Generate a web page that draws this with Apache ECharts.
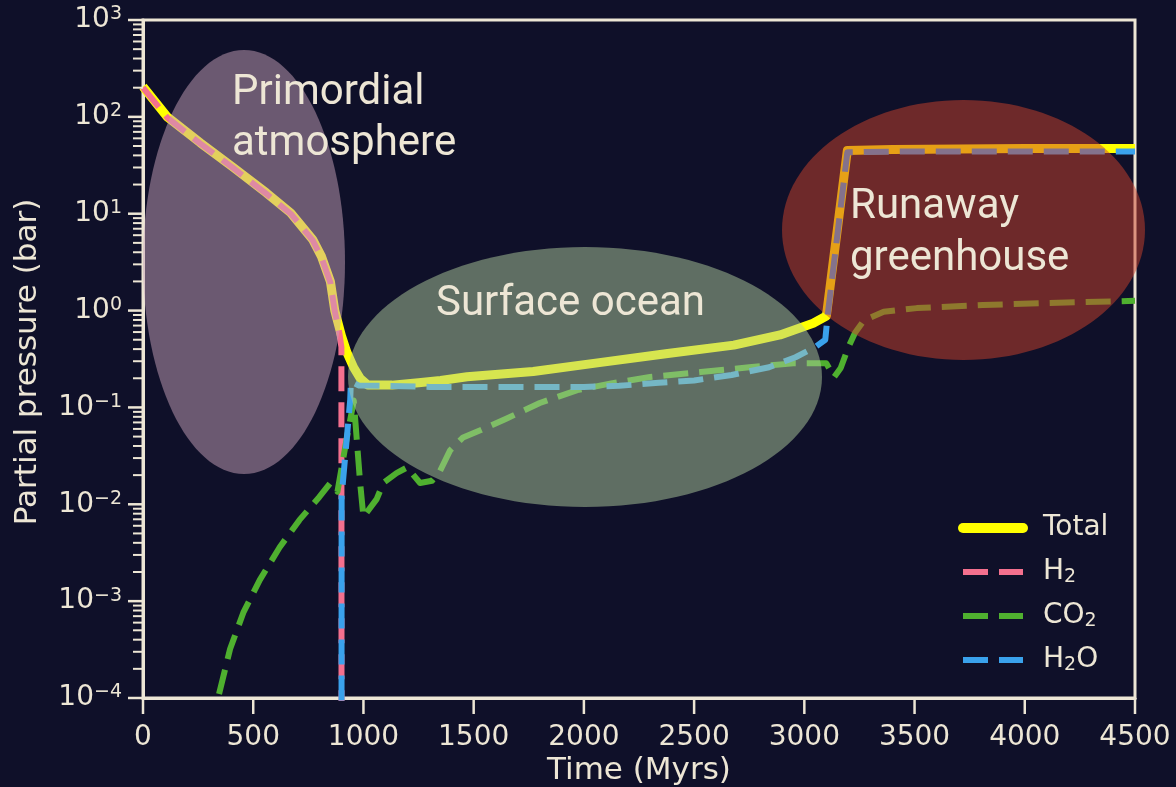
<!DOCTYPE html>
<html><head><meta charset="utf-8">
<script src="https://cdn.jsdelivr.net/npm/echarts@6/dist/echarts.min.js"></script>
<style>html,body{margin:0;padding:0;background:#0f1029;}#c{width:1176px;height:787px;}#dbg{position:absolute;left:400px;top:560px;color:#fff;font:14px 'DejaVu Sans';}</style>
</head><body><div id="c"></div><div id="dbg"></div>
<script>
// ---- data (time in Myrs, partial pressure in bar) ----
const totalT = [0, 110, 260, 410, 560, 670, 770, 810, 850, 870, 900, 925, 955, 985, 1020, 1130, 1250, 1350, 1470, 1770, 2070, 2380, 2680, 2890, 3040, 3100, 3195, 3400, 4000, 4500];
const totalP = [205, 100, 54, 30, 16.4, 10.2, 5.4, 3.6, 2.0, 1.0, 0.55, 0.37, 0.26, 0.20, 0.17, 0.17, 0.18, 0.19, 0.207, 0.235, 0.29, 0.36, 0.44, 0.56, 0.74, 0.88, 45, 46, 47, 47];

const h2T = [0, 110, 260, 410, 560, 670, 770, 810, 850, 870, 890, 900, 901];
const h2P = [200, 98, 53, 29.5, 16, 10, 5.3, 3.5, 1.95, 0.98, 0.6, 0.42, 1e-7];

const co2T = [345, 395, 455, 530, 620, 710, 800, 850, 882, 925, 948, 956, 985, 1000, 1060, 1090, 1150, 1198, 1257, 1311, 1347, 1393, 1452, 1530, 1650, 1800, 1970, 2130, 2300, 2530, 2750, 2950, 3100, 3135, 3165, 3200, 3230, 3270, 3360, 3510, 3810, 4110, 4500];
const co2P = [1.1e-4, 3.2e-4, 7.6e-4, 1.66e-3, 3.6e-3, 6.9e-3, 0.0119, 0.0166, 0.0135, 0.049, 0.093, 0.118, 0.0166, 0.0074, 0.0113, 0.0166, 0.021, 0.024, 0.0166, 0.0175, 0.022, 0.036, 0.049, 0.058, 0.077, 0.111, 0.151, 0.178, 0.206, 0.232, 0.26, 0.285, 0.285, 0.205, 0.255, 0.42, 0.59, 0.79, 0.97, 1.06, 1.14, 1.2, 1.26];

const h2oT = [900, 901, 940, 943, 980, 1100, 1300, 1600, 2000, 2160, 2340, 2500, 2670, 2840, 2960, 3050, 3095, 3105, 3195, 3500, 4000, 4500];
const h2oP = [1e-7, 0.012, 0.12, 0.185, 0.168, 0.167, 0.163, 0.163, 0.163, 0.167, 0.18, 0.19, 0.216, 0.26, 0.33, 0.42, 0.5, 0.86, 43, 44, 44, 44];

const seriesNames = ['Total', 'H2', 'CO2', 'H2O'];
const xTickStep = 500;
const xTicks = [0, 500, 1000, 1500, 2000, 2500, 3000, 3500, 4000, 4500];
const yDecadeMin = -4, yDecadeMax = 3;
const annotations = ['Primordial\natmosphere', 'Surface ocean', 'Runaway\ngreenhouse'];

// ---- helpers ----
const dbg = msg => { document.getElementById('dbg').textContent += msg + ' | '; };
window.onerror = (m) => { dbg('ERR ' + m); };
const zip = (t, p) => t.map((x, i) => [x, p[i]]);
const CREAM = '#ede6d5';
const FONT = 'DejaVu Sans';
const majorVals = [], minorVals = [];
for (let d = yDecadeMin; d <= yDecadeMax; d++) majorVals.push(Math.pow(10, d));
for (let d = yDecadeMin; d < yDecadeMax; d++) for (let k = 2; k <= 9; k++) minorVals.push(k * Math.pow(10, d));

const GRID = { left: 143, right: 41, top: 20, bottom: 89, show: true, borderColor: CREAM, borderWidth: 3, backgroundColor: 'transparent' };
const X_BASE = { type: 'value', min: 0, max: 4500, interval: xTickStep };
const Y_BASE = { type: 'log', logBase: 10, min: Math.pow(10, yDecadeMin), max: Math.pow(10, yDecadeMax), splitNumber: 7 };

const chart = echarts.init(document.getElementById('c'));
// minimal pass to read the axis scales
chart.setOption({ animation: false, grid: GRID, xAxis: Object.assign({}, X_BASE), yAxis: Object.assign({}, Y_BASE),
  series: [{ type: 'line', data: [[0, 1], [4500, 1]], symbol: 'none', lineStyle: { opacity: 0 } }] });
const x0 = chart.convertToPixel({ xAxisIndex: 0 }, 0);
const yb = chart.convertToPixel({ yAxisIndex: 0 }, Math.pow(10, yDecadeMin));
const tickEls = [];
majorVals.forEach(v => { const y = chart.convertToPixel({ yAxisIndex: 0 }, v);
  tickEls.push({ type: 'line', silent: true, z: 4, shape: { x1: x0 - 15, y1: y, x2: x0, y2: y }, style: { stroke: CREAM, lineWidth: 2.5 } }); });
minorVals.forEach(v => { const y = chart.convertToPixel({ yAxisIndex: 0 }, v);
  tickEls.push({ type: 'line', silent: true, z: 4, shape: { x1: x0 - 10, y1: y, x2: x0, y2: y }, style: { stroke: CREAM, lineWidth: 2 } }); });
xTicks.forEach(t => { const x = chart.convertToPixel({ xAxisIndex: 0 }, t);
  tickEls.push({ type: 'line', silent: true, z: 4, shape: { x1: x, y1: yb, x2: x, y2: yb + 16 }, style: { stroke: CREAM, lineWidth: 2.5 } }); });
const bad = tickEls.filter(e => !isFinite(e.shape.x1) || !isFinite(e.shape.y1) || !isFinite(e.shape.x2) || !isFinite(e.shape.y2));
if (bad.length) dbg('bad ticks ' + bad.length + ' x0=' + x0 + ' yb=' + yb);

const dash = [25, 11];
const decor = [
  { type: 'ellipse', silent: true, z: 5, shape: { cx: 244, cy: 262, rx: 101, ry: 212 }, style: { fill: 'rgba(199,162,185,0.5)' } },
  { type: 'ellipse', silent: true, z: 5, shape: { cx: 585, cy: 377, rx: 237, ry: 130 }, style: { fill: 'rgba(175,204,157,0.5)' } },
  { type: 'ellipse', silent: true, z: 5, shape: { cx: 963.5, cy: 230, rx: 181.5, ry: 130 }, style: { fill: 'rgba(205,66,43,0.5)' } },
  { type: 'text', silent: true, z: 6, x: 232, y: 119, style: { text: annotations[0], fill: CREAM, fontSize: 42, fontFamily: 'Roboto', lineHeight: 51, align: 'left', verticalAlign: 'middle' } },
  { type: 'text', silent: true, z: 6, x: 436, y: 304, style: { text: annotations[1], fill: CREAM, fontSize: 42, fontFamily: 'Roboto', align: 'left', verticalAlign: 'middle' } },
  { type: 'text', silent: true, z: 6, x: 850, y: 233, style: { text: annotations[2], fill: CREAM, fontSize: 42, fontFamily: 'Roboto', lineHeight: 52, align: 'left', verticalAlign: 'middle' } },
  { type: 'text', silent: true, z: 6, x: 28, y: 362, rotation: Math.PI / 2, style: { text: 'Partial pressure (bar)', fill: CREAM, fontSize: 31, fontFamily: FONT, align: 'center', verticalAlign: 'middle' } },
  { type: 'text', silent: true, z: 6, x: 639, y: 771, style: { text: 'Time (Myrs)', fill: CREAM, fontSize: 31, fontFamily: FONT, align: 'center', verticalAlign: 'middle' } }
];

const option = {
  backgroundColor: '#0f1029',
  animation: false,
  textStyle: { fontFamily: FONT, color: CREAM },
  grid: GRID,
  xAxis: Object.assign({}, X_BASE, {
    axisLine: { lineStyle: { color: CREAM, width: 3 } },
    axisTick: { show: false },
    axisLabel: { color: CREAM, fontSize: 28, margin: 26, fontFamily: FONT, formatter: v => String(v) },
    splitLine: { show: false }
  }),
  yAxis: Object.assign({}, Y_BASE, {
    axisLine: { show: true, lineStyle: { color: CREAM, width: 3 } },
    axisTick: { show: false },
    axisLabel: {
      margin: 21,
      formatter: v => { const e = Math.round(Math.log10(v)); return '{b|10}{s|' + (e < 0 ? '−' + (-e) : e) + '}'; },
      rich: {
        b: { fontSize: 28, color: CREAM, fontFamily: FONT, lineHeight: 30 },
        s: { fontSize: 19, color: CREAM, fontFamily: FONT, lineHeight: 20, verticalAlign: 'top' }
      }
    },
    splitLine: { show: false }
  }),
  legend: {
    orient: 'vertical', left: 958, top: 513, padding: 0, itemWidth: 60, itemHeight: 14, itemGap: 14, z: 20,
    data: [{ name: 'Total', lineStyle: { width: 10, cap: 'round' } }, 'H2', 'CO2', 'H2O'],
    lineStyle: { width: 6 },
    formatter: name => name.replace(/(\d)/g, '{sub|$1}'),
    textStyle: {
      color: CREAM, fontSize: 28, fontFamily: FONT, padding: [0, 0, 0, 15], lineHeight: 30,
      rich: { sub: { fontSize: 19, color: CREAM, fontFamily: FONT, lineHeight: 14, verticalAlign: 'bottom' } }
    },
    itemStyle: { opacity: 0 },
    selectedMode: false
  },
  series: [
    { name: seriesNames[0], type: 'line', data: zip(totalT, totalP), symbol: 'none', z: 2,
      lineStyle: { color: '#ffff00', width: 9, join: 'round' }, itemStyle: { color: '#ffff00' } },
    { name: seriesNames[1], type: 'line', data: zip(h2T, h2P), symbol: 'none', z: 2,
      lineStyle: { color: '#f4708e', width: 6, type: dash, join: 'round' }, itemStyle: { color: '#f4708e' } },
    { name: seriesNames[2], type: 'line', data: zip(co2T, co2P), symbol: 'none', z: 2,
      lineStyle: { color: '#4fb02f', width: 6, type: dash, join: 'round' }, itemStyle: { color: '#4fb02f' } },
    { name: seriesNames[3], type: 'line', data: zip(h2oT, h2oP), symbol: 'none', z: 2,
      lineStyle: { color: '#3aa2ec', width: 6, type: dash, join: 'round' }, itemStyle: { color: '#3aa2ec' } }
  ],
  graphic: tickEls.concat(decor)
};
try { chart.setOption(option, true); } catch (e) { dbg('setOption ' + e.message); }
</script>
</body></html>
